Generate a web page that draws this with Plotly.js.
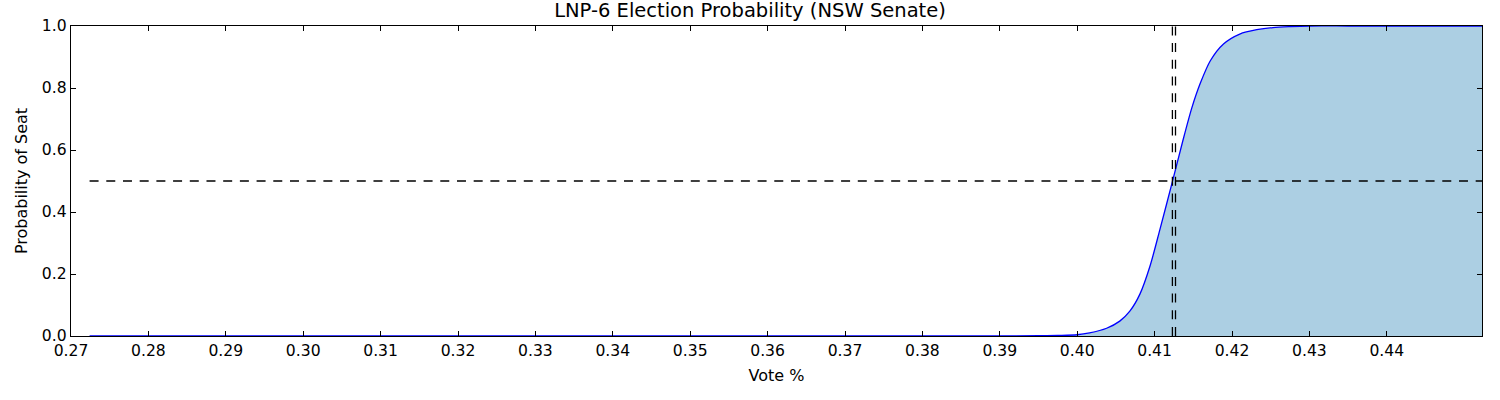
<!DOCTYPE html>
<html>
<head>
<meta charset="utf-8">
<script src="https://cdn.plot.ly/plotly-3.0.1.min.js"></script>
<style>html,body{margin:0;padding:0;background:#fff;}#chart{width:1500px;height:400px;}</style>
</head>
<body>
<div id="chart"></div>
<script>
// Curve values
var voteShare = [0.2724, 0.29, 0.31, 0.33, 0.35, 0.37, 0.38, 0.39, 0.395, 0.3975, 0.4000, 0.4016, 0.4038, 0.4055, 0.4068, 0.4081, 0.4094, 0.4107, 0.4123, 0.4136, 0.4148, 0.4159, 0.4172, 0.4189, 0.4210, 0.4232, 0.4253, 0.4275, 0.4300, 0.4350, 0.4400, 0.4523];
var seatProb  = [0, 0, 0, 0, 0, 0, 0, 0.0003, 0.001, 0.002, 0.004, 0.010, 0.025, 0.048, 0.080, 0.135, 0.225, 0.345, 0.498, 0.625, 0.735, 0.815, 0.888, 0.942, 0.974, 0.988, 0.995, 0.998, 1.0, 1.0, 1.0, 1.0];
var halfLine = 0.5;
var markerVotes = [0.4123, 0.4127];
var xTicks = [0.27, 0.28, 0.29, 0.30, 0.31, 0.32, 0.33, 0.34, 0.35, 0.36, 0.37, 0.38, 0.39, 0.40, 0.41, 0.42, 0.43, 0.44];
var yTicks = [0.0, 0.2, 0.4, 0.6, 0.8, 1.0];
var xRange = [0.27, 0.4523];

var font = 'DejaVu Sans, sans-serif';
var dash = '9px,7.7px';

var traces = [
  {x: voteShare, y: seatProb, type: 'scatter', mode: 'lines', fill: 'tozeroy',
   fillcolor: '#accfe3', line: {color: '#0000ff', width: 1.3, shape: 'spline', smoothing: 0.8},
   hoverinfo: 'skip', showlegend: false},
  {x: [voteShare[0], xRange[1]], y: [halfLine, halfLine], type: 'scatter', mode: 'lines',
   line: {color: '#000', width: 1.3, dash: dash}, showlegend: false, hoverinfo: 'skip'}
];
markerVotes.forEach(function (v) {
  traces.push({x: [v, v], y: [0, 1], type: 'scatter', mode: 'lines',
    line: {color: '#000', width: 1.3, dash: dash}, showlegend: false, hoverinfo: 'skip'});
});

var layout = {
  width: 1500, height: 400,
  margin: {l: 71, r: 18, t: 26, b: 64},
  paper_bgcolor: '#fff', plot_bgcolor: '#fff',
  font: {family: font, size: 15.6, color: '#000'},
  title: {text: 'LNP-6 Election Probability (NSW Senate)', font: {family: font, size: 19.5, color: '#000'},
          x: 0.5, xanchor: 'center', y: 0.975, yanchor: 'middle'},
  xaxis: {range: xRange, tickvals: xTicks, ticktext: xTicks.map(function (t) { return t.toFixed(2); }),
          ticks: 'inside', ticklen: 5, tickwidth: 1, tickcolor: '#000', mirror: 'allticks',
          showline: true, linecolor: '#000', linewidth: 1.2, showgrid: false, zeroline: false,
          title: {text: 'Vote %', font: {family: font, size: 16, color: '#000'}, standoff: 10},
          tickfont: {family: font, size: 15.6, color: '#000'}},
  yaxis: {range: [0, 1], tickvals: yTicks, ticktext: yTicks.map(function (t) { return t.toFixed(1); }),
          ticks: 'inside', ticklen: 5, tickwidth: 1, tickcolor: '#000', mirror: 'allticks',
          showline: true, linecolor: '#000', linewidth: 1.2, showgrid: false, zeroline: false,
          title: {text: 'Probability of Seat', font: {family: font, size: 16, color: '#000'}, standoff: 10},
          tickfont: {family: font, size: 15.6, color: '#000'}},
  showlegend: false
};

Plotly.newPlot('chart', traces, layout, {displayModeBar: false, staticPlot: true});
</script>
</body>
</html>
